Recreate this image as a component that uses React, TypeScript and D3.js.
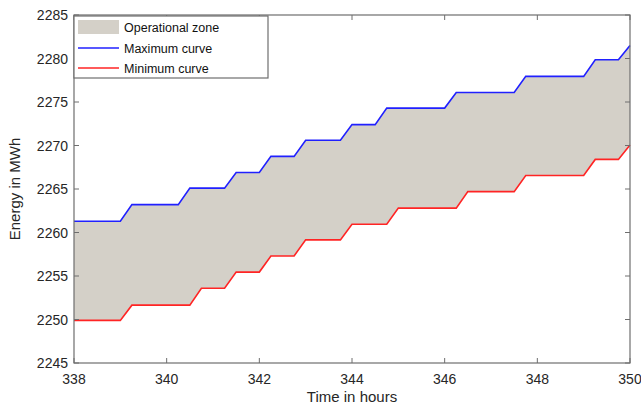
import React from "react";
import * as d3 from "d3";

const maxHours = [338, 339, 339.25, 340.25, 340.5, 341.25, 341.5, 342, 342.25, 342.75, 343, 343.75, 344, 344.5, 344.75, 346, 346.25, 347.5, 347.75, 349, 349.25, 349.75, 350];
const maxValues = [2261.3, 2261.3, 2263.2, 2263.2, 2265.1, 2265.1, 2266.9, 2266.9, 2268.75, 2268.75, 2270.6, 2270.6, 2272.4, 2272.4, 2274.3, 2274.3, 2276.1, 2276.1, 2277.95, 2277.95, 2279.85, 2279.85, 2281.5];
const minHours = [338, 339, 339.25, 340.5, 340.75, 341.25, 341.5, 342, 342.25, 342.75, 343, 343.75, 344, 344.75, 345, 346.25, 346.5, 347.5, 347.75, 349, 349.25, 349.75, 350];
const minValues = [2249.9, 2249.9, 2251.65, 2251.65, 2253.6, 2253.6, 2255.45, 2255.45, 2257.3, 2257.3, 2259.15, 2259.15, 2260.95, 2260.95, 2262.8, 2262.8, 2264.7, 2264.7, 2266.55, 2266.55, 2268.4, 2268.4, 2270.05];
const xTicks = [338, 340, 342, 344, 346, 348, 350];
const yTicks = [2245, 2250, 2255, 2260, 2265, 2270, 2275, 2280, 2285];
const legendLabels = ["Operational zone", "Maximum curve", "Minimum curve"];

const W = 641, H = 407;
const L = 74, R = 630, T = 15, B = 363;
const FONT = "'Liberation Sans', Arial, Helvetica, sans-serif";
const AXIS = "#6e6e6e";
const TXT = "#262626";
const ZONE = "#d4d0c8";

export default function App() {
  const x = d3.scaleLinear().domain([338, 350]).range([L, R]);
  const y = d3.scaleLinear().domain([2245, 2285]).range([B, T]);
  const maxPts: [number, number][] = maxHours.map((h, i) => [h, maxValues[i]]);
  const minPts: [number, number][] = minHours.map((h, i) => [h, minValues[i]]);
  const line = d3.line<[number, number]>().x(d => x(d[0])).y(d => y(d[1]));
  const poly = line([...maxPts, ...minPts.slice().reverse()]) + "Z";
  const tl = 5;

  return (
    <svg width={W} height={H} style={{ position: "absolute", left: 0, top: 0, background: "#fff" }} fontFamily={FONT}>
      <rect x={0} y={0} width={W} height={H} fill="#fff" />
      <path d={poly} fill={ZONE} stroke="none" />
      <path d={line(maxPts) || ""} fill="none" stroke="#2020ff" strokeWidth={1.6} />
      <path d={line(minPts) || ""} fill="none" stroke="#ff2424" strokeWidth={1.6} />
      <rect x={L} y={T} width={R - L} height={B - T} fill="none" stroke={AXIS} strokeWidth={1.2} />
      {xTicks.map(t => (
        <g key={"x" + t}>
          <line x1={x(t)} x2={x(t)} y1={B} y2={B - tl} stroke={AXIS} />
          <line x1={x(t)} x2={x(t)} y1={T} y2={T + tl} stroke={AXIS} />
          <text x={x(t)} y={384} textAnchor="middle" fontSize={14} fill={TXT}>{t}</text>
        </g>
      ))}
      {yTicks.map(t => (
        <g key={"y" + t}>
          <line x1={L} x2={L + tl} y1={y(t)} y2={y(t)} stroke={AXIS} />
          <line x1={R} x2={R - tl} y1={y(t)} y2={y(t)} stroke={AXIS} />
          <text x={68} y={y(t) + 5} textAnchor="end" fontSize={14} fill={TXT}>{t}</text>
        </g>
      ))}
      <text x={(L + R) / 2} y={402} textAnchor="middle" fontSize={15} fill={TXT}>Time in hours</text>
      <text transform={`translate(20,${(T + B) / 2}) rotate(-90)`} textAnchor="middle" fontSize={15} fill={TXT}>Energy in MWh</text>
      <rect x={L} y={16} width={194} height={62} fill="#fff" stroke={AXIS} strokeWidth={1.2} />
      <rect x={78} y={20} width={41} height={14} fill={ZONE} />
      <line x1={78} x2={119} y1={48} y2={48} stroke="#2020ff" strokeWidth={1.5} />
      <line x1={78} x2={119} y1={68} y2={68} stroke="#ff2424" strokeWidth={1.5} />
      {legendLabels.map((s, i) => (
        <text key={s} x={124} y={32 + i * 20.5} fontSize={12.5} fill="#111">{s}</text>
      ))}
    </svg>
  );
}
